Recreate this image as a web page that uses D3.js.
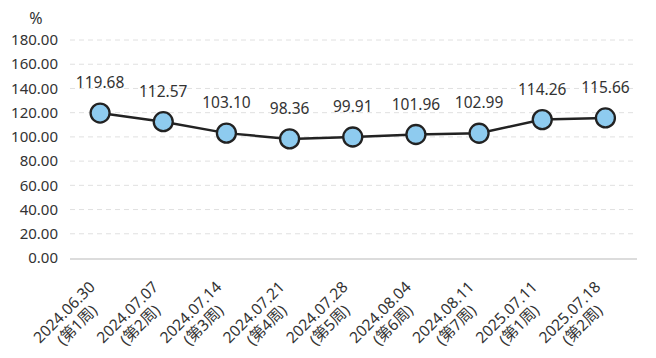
<!DOCTYPE html>
<html lang="zh">
<head>
<meta charset="utf-8">
<title>周度比率</title>
<script src="https://d3js.org/d3.v7.min.js"></script>
<style>
  body { margin: 0; background: #fff; }
  svg text { font-family: "Noto Sans", "Noto Sans CJK SC", sans-serif; fill: #333; }
</style>
</head>
<body>
<div id="chart"></div>
<script>
// data
var dates = ["2024.06.30", "2024.07.07", "2024.07.14", "2024.07.21", "2024.07.28",
             "2024.08.04", "2024.08.11", "2025.07.11", "2025.07.18"];
var weeks = ["(第1周)", "(第2周)", "(第3周)", "(第4周)", "(第5周)",
             "(第6周)", "(第7周)", "(第1周)", "(第2周)"];
var values = [119.68, 112.57, 103.10, 98.36, 99.91, 101.96, 102.99, 114.26, 115.66];
var yTicks = [0, 20, 40, 60, 80, 100, 120, 140, 160, 180];

var W = 656, H = 358;
var plotL = 68.5, plotR = 637, plotT = 40, plotB = 258;

var svg = d3.select("#chart").append("svg")
    .attr("width", W).attr("height", H);

var x = d3.scaleBand().domain(d3.range(dates.length)).range([plotL, plotR]);
var y = d3.scaleLinear().domain([0, 180]).range([plotB, plotT]);

// gridlines
svg.append("g").selectAll("line")
    .data(yTicks.filter(function(d) { return d > 0; }))
    .enter().append("line")
    .attr("x1", 70).attr("x2", plotR)
    .attr("y1", function(d) { return y(d); })
    .attr("y2", function(d) { return y(d); })
    .attr("stroke", "#e0e0e0")
    .attr("stroke-dasharray", "5,4");

// y labels
svg.append("g").selectAll("text")
    .data(yTicks)
    .enter().append("text")
    .attr("x", 58)
    .attr("y", function(d) { return y(d); })
    .attr("dy", "0.35em")
    .attr("text-anchor", "end")
    .style("font-size", "15px")
    .text(function(d) { return d.toFixed(2); });

svg.append("text")
    .attr("x", 36).attr("y", 24)
    .attr("text-anchor", "middle")
    .style("font-size", "16px")
    .text("%");

// x axis line
svg.append("line")
    .attr("x1", 70).attr("x2", plotR)
    .attr("y1", y(0) + 1).attr("y2", y(0) + 1)
    .attr("stroke", "#dcdcdc")
    .attr("stroke-width", 2);

// x labels, rotated
var cx = function(i) { return x(i) + x.bandwidth() / 2; };
var xl = svg.append("g").selectAll("g")
    .data(dates)
    .enter().append("g")
    .attr("transform", function(d, i) { return "translate(" + (cx(i) - 4) + "," + 288 + ") rotate(-45)"; });

xl.each(function(d, i) {
    var g = d3.select(this);
    var t1 = g.append("text")
        .attr("x", 0).attr("y", 0)
        .attr("text-anchor", "end")
        .style("font-size", "15.5px")
        .text(d);
    var w = t1.node().getComputedTextLength();
    g.append("text")
        .attr("x", -w / 2).attr("y", 18)
        .attr("text-anchor", "middle")
        .style("font-size", "15.5px")
        .text(weeks[i]);
});

// line
var line = d3.line()
    .x(function(d, i) { return cx(i); })
    .y(function(d) { return y(d); });

svg.append("path")
    .datum(values)
    .attr("d", line)
    .attr("fill", "none")
    .attr("stroke", "#222")
    .attr("stroke-width", 2.5);

svg.append("g").selectAll("circle")
    .data(values)
    .enter().append("circle")
    .attr("cx", function(d, i) { return cx(i); })
    .attr("cy", function(d) { return y(d); })
    .attr("r", 9.5)
    .attr("fill", "#8ecbef")
    .attr("stroke", "#222")
    .attr("stroke-width", 2.3);

// value labels
svg.append("g").selectAll("text")
    .data(values)
    .enter().append("text")
    .attr("x", function(d, i) { return cx(i); })
    .attr("y", function(d) { return y(d) - 25; })
    .attr("text-anchor", "middle")
    .style("font-size", "15.5px")
    .text(function(d) { return d.toFixed(2); });
</script>
</body>
</html>
